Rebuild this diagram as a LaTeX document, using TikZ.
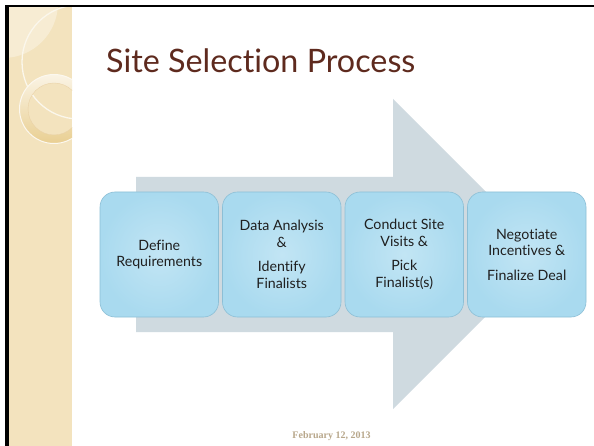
\documentclass[tikz,border=0pt]{standalone}
\usepackage{fontspec}
\setmainfont{Lato}[Ligatures=NoCommon]
\newfontfamily\datefont{Liberation Serif}
\definecolor{beige}{HTML}{F3E3BE}
\definecolor{beigelight}{HTML}{F7ECD3}
\definecolor{ringgold}{HTML}{E9CF92}
\definecolor{titlebrown}{HTML}{5E2A1E}
\definecolor{arrowgray}{HTML}{CFDAE0}
\definecolor{boxin}{HTML}{C2E5F4}
\definecolor{boxout}{HTML}{A9DAEF}
\definecolor{boxline}{HTML}{8CBFD6}
\definecolor{datetan}{HTML}{B8A78B}
\tikzset{
  stepbox/.style={rounded corners=15pt, minimum width=118.5pt, minimum height=125pt,
    inner sep=0pt, draw=boxline, line width=0.6pt, inner color=boxin, outer color=boxout,
    align=center, text=black!88, font=\fontsize{14.2}{16.5}\selectfont},
  slidetitle/.style={anchor=base west, inner sep=0pt, text=titlebrown, font=\fontsize{32.3}{38}\selectfont},
  datelabel/.style={anchor=base, inner sep=0pt, text=datetan, font=\datefont\bfseries\fontsize{10}{12}\selectfont}
}
\begin{document}
\begin{tikzpicture}[x=1pt,y=-1pt]
\useasboundingbox (0,0) rectangle (594,446);
\fill[white] (0,0) rectangle (594,446);
% decorative strip
\fill[beige] (8.5,7) rectangle (72,446);
\begin{scope}
  \clip (8.5,7) rectangle (72,446);
  \fill[beigelight] (3,3) circle (55);
  \draw[white!70!beige, line width=1.3pt] (79,62) circle (57);
  \shade[top color=white!60!beige, bottom color=ringgold, even odd rule]
     (54,109) circle (34.5) (54,109) circle (26);
  \draw[white!75!beige, line width=1pt] (54,109) circle (34.5);
  \draw[ringgold!80!brown!70, line width=0.4pt] (54,109) circle (26);
\end{scope}
% frame
\fill[black] (5,5) rectangle (594,7.3);
\fill[black] (5,5) rectangle (8.5,446);
% title
\node[slidetitle] (title) at (106,73) {Site Selection Process};
% big arrow
\fill[arrowgray] (136,177) -- (393,177) -- (393,99) -- (548,254) -- (393,409) -- (393,332) -- (136,332) -- cycle;
% steps
\node[stepbox] (s1) at (159.25,254.5) {Define\\Requirements};
\node[stepbox] (s2) at (281.75,254.5) {Data Analysis\\\&\\[8pt]Identify\\Finalists};
\node[stepbox] (s3) at (404.25,254.5) {Conduct Site\\Visits \&\\[8pt]Pick\\Finalist(s)};
\node[stepbox] (s4) at (526.75,254.5) {Negotiate\\Incentives \&\\[8pt]Finalize Deal};
% date
\node[datelabel] (date) at (331.5,438) {February 12, 2013};
\end{tikzpicture}
\end{document}
